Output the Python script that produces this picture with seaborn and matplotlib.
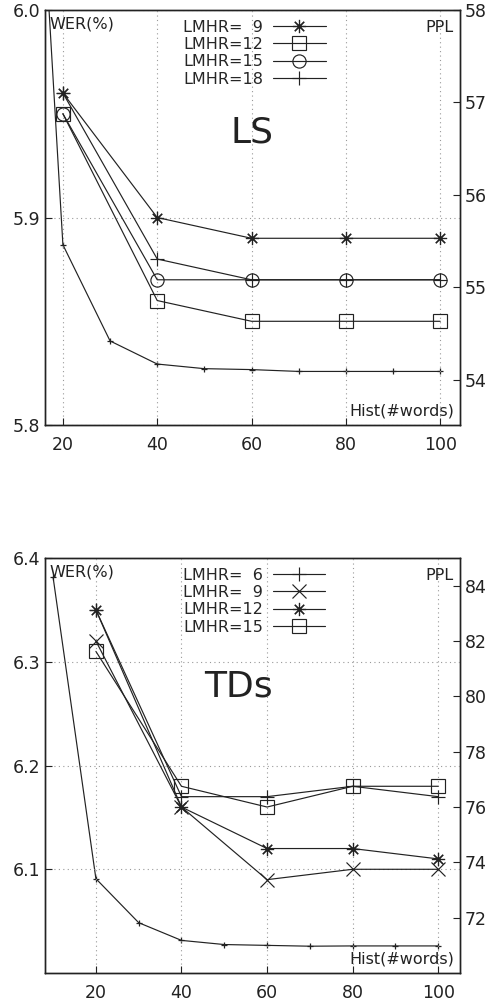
import matplotlib
matplotlib.use("Agg")
import matplotlib.pyplot as plt
import seaborn as sns

# --- LS panel ---
ls_hist = [20, 40, 60, 80, 100]
ls_wer_9 = [5.96, 5.90, 5.89, 5.89, 5.89]
ls_wer_12 = [5.95, 5.86, 5.85, 5.85, 5.85]
ls_wer_15 = [5.95, 5.87, 5.87, 5.87, 5.87]
ls_wer_18 = [5.96, 5.88, 5.87, 5.87, 5.87]
ls_ppl_hist = [10, 20, 30, 40, 50, 60, 70, 80, 90, 100]
ls_ppl = [64.1, 55.46, 54.42, 54.17, 54.12, 54.11, 54.09, 54.09, 54.09, 54.09]

# --- TDs panel ---
td_hist = [20, 40, 60, 80, 100]
td_wer_6 = [6.35, 6.17, 6.17, 6.18, 6.17]
td_wer_9 = [6.32, 6.16, 6.09, 6.10, 6.10]
td_wer_12 = [6.35, 6.16, 6.12, 6.12, 6.11]
td_wer_15 = [6.31, 6.18, 6.16, 6.18, 6.18]
td_ppl_hist = [10, 20, 30, 40, 50, 60, 70, 80, 90, 100]
td_ppl = [84.3, 73.41, 71.82, 71.18, 71.03, 71.0, 70.97, 70.98, 70.98, 70.98]

sns.set_style("ticks")
plt.rcParams['font.family'] = ['DejaVu Sans']

LINE = '#222222'
ASTER = (8, 2, 0)  # gnuplot-style "*" (plus + cross)


def draw_panel(ax, hist, series, ppl_x, ppl_y, xlim, ylim, yticks, ppl_lim, ppl_ticks, title, title_xy):
    ax2 = ax.twinx()
    # PPL curve on the right axis
    sns.lineplot(x=ppl_x, y=ppl_y, ax=ax2, color=LINE, lw=0.85, marker='+',
                 markersize=4, markeredgewidth=0.9, markeredgecolor=LINE)
    for label, vals, mk in series:
        sns.lineplot(x=hist, y=vals, ax=ax, color=LINE, lw=0.85, marker=mk,
                     markersize=9.5, markeredgewidth=0.85, markeredgecolor=LINE,
                     markerfacecolor='none', label=label, legend=False)
    handles = list(ax.get_lines())[:len(series)]

    ax.set_xlim(*xlim)
    ax.set_ylim(*ylim)
    ax.set_yticks(yticks)
    ax.set_yticklabels([f"{t:.1f}" for t in yticks])
    ax.set_xticks([20, 40, 60, 80, 100])
    ax2.set_ylim(*ppl_lim)
    ax2.set_yticks(ppl_ticks)
    ax.grid(True, color='#999999', ls=(0, (1, 3)), lw=0.8)
    ax.set_xlabel('')
    ax.set_ylabel('')
    ax2.set_ylabel('')
    for a in (ax, ax2):
        a.tick_params(direction='in', labelsize=12.5, colors='#222222', length=5, width=0.8)
        for s in a.spines.values():
            s.set_color('#222222')
            s.set_linewidth(1.0)
    ax.tick_params(axis='x', pad=8)

    ax.text(0.012, 0.985, 'WER(%)', transform=ax.transAxes, ha='left', va='top', fontsize=11.5, color='#222222')
    ax.text(0.985, 0.975, 'PPL', transform=ax.transAxes, ha='right', va='top', fontsize=11.5, color='#222222')
    ax.text(0.985, 0.015, 'Hist(#words)', transform=ax.transAxes, ha='right', va='bottom', fontsize=11.5, color='#222222')
    ax.text(title_xy[0], title_xy[1], title, transform=ax.transAxes, ha='center', va='center', fontsize=26, color='#222222')

    ax.legend(handles=handles, labels=[s[0] for s in series], loc='upper left',
              bbox_to_anchor=(0.31, 1.0), frameon=False, markerfirst=False,
              fontsize=11.5, handlelength=3.3, handletextpad=0.6,
              labelspacing=0.15, borderaxespad=0.2)
    ax.set_zorder(ax2.get_zorder() + 1)
    ax.patch.set_visible(False)
    return ax2


fig = plt.figure(figsize=(4.9, 10.02), dpi=100)
ax_top = fig.add_axes([0.0918, 0.5758, 0.847, 0.4142])
ax_bot = fig.add_axes([0.0918, 0.0289, 0.847, 0.4142])

draw_panel(ax_top, ls_hist,
           [('LMHR=  9', ls_wer_9, ASTER), ('LMHR=12', ls_wer_12, 's'),
            ('LMHR=15', ls_wer_15, 'o'), ('LMHR=18', ls_wer_18, '+')],
           ls_ppl_hist, ls_ppl, (16.2, 104.2), (5.8, 6.0), [5.8, 5.9, 6.0],
           (53.51, 58.0), [54, 55, 56, 57, 58], 'LS', (0.5, 0.705))

draw_panel(ax_bot, td_hist,
           [('LMHR=  6', td_wer_6, '+'), ('LMHR=  9', td_wer_9, 'x'),
            ('LMHR=12', td_wer_12, ASTER), ('LMHR=15', td_wer_15, 's')],
           td_ppl_hist, td_ppl, (8.1, 105.1), (6.0, 6.4), [6.1, 6.2, 6.3, 6.4],
           (70.0, 85.0), [72, 74, 76, 78, 80, 82, 84], 'TDs', (0.465, 0.69))

fig.savefig('out.png', dpi=100)
